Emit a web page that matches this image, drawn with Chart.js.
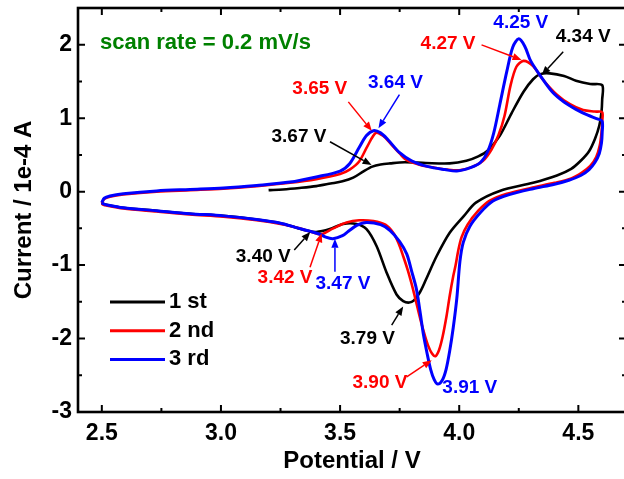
<!DOCTYPE html>
<html>
<head>
<meta charset="utf-8">
<script src="https://cdn.jsdelivr.net/npm/chart.js@4.4.1/dist/chart.umd.min.js"></script>
<style>
  html, body { margin: 0; padding: 0; overflow: hidden; background: #ffffff; width: 624px; height: 479px; }
  canvas { display: block; }
</style>
</head>
<body>
<canvas id="cv" width="640" height="479"></canvas>
<script>
// Cyclic voltammetry, potential in V, current in 1e-4 A.
// Each cycle: anodic sweep up to the 4.6 V vertex, then the cathodic sweep back.
const cycle1Potential = [
  3.20, 3.26, 3.33, 3.40, 3.46, 3.51, 3.555, 3.60, 3.635, 3.67, 3.71, 3.77, 3.86, 3.96, 4.03, 4.08, 4.12, 4.17, 4.22, 4.27, 4.31, 4.34, 4.38, 4.44, 4.49, 4.55, 4.60,
  4.60, 4.597, 4.588, 4.57, 4.545, 4.51, 4.47, 4.41, 4.31, 4.17, 4.07, 4.02, 3.96, 3.905, 3.86, 3.835, 3.81, 3.79, 3.765, 3.737, 3.695, 3.653, 3.611, 3.569, 3.513, 3.457, 3.40, 3.36, 3.317, 3.25, 3.15, 3.01, 2.87, 2.73, 2.59, 2.52, 2.505, 2.50
];
const cycle1Current = [
  0.02, 0.03, 0.05, 0.075, 0.11, 0.14, 0.19, 0.28, 0.34, 0.37, 0.385, 0.40, 0.39, 0.385, 0.42, 0.48, 0.56, 0.76, 1.07, 1.36, 1.53, 1.60, 1.61, 1.575, 1.51, 1.465, 1.45,
  1.25, 1.08, 0.90, 0.72, 0.55, 0.42, 0.31, 0.22, 0.12, 0.01, -0.15, -0.33, -0.56, -0.88, -1.20, -1.37, -1.48, -1.51, -1.49, -1.40, -1.10, -0.74, -0.51, -0.44, -0.44, -0.51, -0.55, -0.53, -0.49, -0.43, -0.38, -0.33, -0.30, -0.26, -0.22, -0.18, -0.165, -0.15
];

const cycle2Potential = [
  2.50, 2.51, 2.534, 2.59, 2.73, 2.87, 3.01, 3.15, 3.29, 3.40, 3.50, 3.54, 3.58, 3.615, 3.65, 3.68, 3.71, 3.75, 3.78, 3.84, 3.89, 3.95, 4.00, 4.05, 4.10, 4.135, 4.165, 4.19, 4.215, 4.24, 4.27, 4.31, 4.35, 4.41, 4.465, 4.52, 4.57, 4.60,
  4.60, 4.597, 4.59, 4.575, 4.55, 4.515, 4.47, 4.40, 4.30, 4.20, 4.13, 4.08, 4.035, 4.01, 3.996, 3.985, 3.975, 3.96, 3.947, 3.93, 3.915, 3.90, 3.885, 3.87, 3.855, 3.842, 3.825, 3.807, 3.785, 3.765, 3.745, 3.723, 3.69, 3.64, 3.58, 3.527, 3.471, 3.42, 3.38, 3.33, 3.25, 3.15, 3.01, 2.87, 2.73, 2.59, 2.52, 2.505, 2.50
];
const cycle2Current = [
  -0.16, -0.10, -0.07, -0.04, 0.00, 0.02, 0.04, 0.075, 0.12, 0.17, 0.24, 0.30, 0.41, 0.62, 0.80, 0.76, 0.66, 0.52, 0.43, 0.36, 0.33, 0.30, 0.29, 0.33, 0.42, 0.57, 0.77, 1.03, 1.44, 1.70, 1.78, 1.71, 1.53, 1.32, 1.19, 1.11, 1.09, 1.08,
  0.95, 0.80, 0.63, 0.47, 0.35, 0.26, 0.18, 0.12, 0.05, -0.03, -0.12, -0.26, -0.45, -0.62, -0.80, -1.00, -1.15, -1.42, -1.69, -1.98, -2.16, -2.24, -2.20, -2.10, -1.95, -1.80, -1.58, -1.34, -1.08, -0.88, -0.70, -0.56, -0.45, -0.40, -0.39, -0.42, -0.50, -0.58, -0.55, -0.50, -0.44, -0.39, -0.34, -0.31, -0.27, -0.23, -0.19, -0.175, -0.16
];

const cycle3Potential = [
  2.50, 2.51, 2.534, 2.59, 2.73, 2.87, 3.01, 3.15, 3.29, 3.40, 3.50, 3.54, 3.58, 3.61, 3.64, 3.67, 3.70, 3.75, 3.80, 3.87, 3.94, 3.99, 4.05, 4.09, 4.12, 4.145, 4.17, 4.20, 4.225, 4.25, 4.275, 4.30, 4.34, 4.39, 4.44, 4.49, 4.54, 4.58, 4.60,
  4.60, 4.597, 4.588, 4.57, 4.545, 4.51, 4.46, 4.40, 4.31, 4.21, 4.14, 4.09, 4.045, 4.017, 4.003, 3.99, 3.975, 3.96, 3.945, 3.93, 3.91, 3.895, 3.88, 3.865, 3.85, 3.835, 3.82, 3.80, 3.78, 3.75, 3.71, 3.67, 3.61, 3.57, 3.535, 3.51, 3.47, 3.44, 3.415, 3.373, 3.317, 3.25, 3.15, 3.01, 2.87, 2.73, 2.59, 2.52, 2.505, 2.50
];
const cycle3Current = [
  -0.15, -0.09, -0.06, -0.03, 0.01, 0.03, 0.05, 0.085, 0.13, 0.20, 0.28, 0.38, 0.60, 0.76, 0.83, 0.80, 0.71, 0.53, 0.42, 0.34, 0.30, 0.28, 0.33, 0.40, 0.55, 0.80, 1.18, 1.64, 1.97, 2.08, 1.98, 1.78, 1.58, 1.36, 1.22, 1.12, 1.04, 0.99, 0.96,
  0.80, 0.66, 0.52, 0.40, 0.30, 0.22, 0.155, 0.10, 0.04, -0.04, -0.13, -0.28, -0.47, -0.69, -0.95, -1.45, -1.85, -2.17, -2.42, -2.56, -2.62, -2.56, -2.42, -2.20, -1.95, -1.62, -1.32, -1.08, -0.85, -0.68, -0.53, -0.45, -0.42, -0.46, -0.54, -0.60, -0.64, -0.62, -0.58, -0.54, -0.49, -0.43, -0.38, -0.33, -0.30, -0.26, -0.22, -0.18, -0.165, -0.15
];

const seriesNames = ['1 st', '2 nd', '3 rd'];
const seriesColors = ['#000000', '#ff0000', '#0000ff'];
const xTickValues = [2.5, 3.0, 3.5, 4.0, 4.5];
const yTickValues = [-3, -2, -1, 0, 1, 2];
const scanRateText = 'scan rate = 0.2 mV/s';

// Peak potentials marked on the curves (cycle index, potential, sweep branch)
const peakCycles = [1, 2, 0, 1, 2, 0, 0, 1, 2, 0, 1, 2];
const peakPotentials = [3.65, 3.64, 3.67, 4.27, 4.25, 4.34, 3.40, 3.42, 3.47, 3.79, 3.90, 3.91];
const peakBranches = ['ox', 'ox', 'ox', 'ox', 'ox', 'ox', 'red', 'red', 'red', 'red', 'red', 'red'];

// Label placement relative to the marked point, in px: text centre, arrow start, arrow tip
const peakLayout = [
  { text: [-56, -44],   from: [-27.5, -31],  to: [-4, -2] },
  { text: [22, -48],    from: [26, -36],     to: [5, -2.4] },
  { text: [-81.6, -27.4], from: [-50.6, -22.7], to: [-9, 0.6] },
  { text: [-75.5, -17], from: [-42, -16],    to: [-2, -1] },
  { text: [2, -16] },
  { text: [43, -37.4],  from: [23, -22.4],   to: [1.5, 1] },
  { text: [-53, 24.5],  from: [-22, 18],     to: [-6, 0] },
  { text: [-36, 43.3],  from: [-11, 33],     to: [0.7, -1] },
  { text: [10, 45],     from: [2, 33],       to: [2, 0] },
  { text: [-41.7, 36.5], from: [-17.5, 22.5], to: [-6, 4] },
  { text: [-55.4, 26.5], from: [-28.7, 20.7], to: [-3.7, 4] },
  { text: [32, 3.5] }
];

const FONT = '"Liberation Sans", Arial, Helvetica, sans-serif';
const cycles = [
  [cycle1Potential, cycle1Current],
  [cycle2Potential, cycle2Current],
  [cycle3Potential, cycle3Current]
];

function toPoints(pot, cur) {
  return pot.map((v, i) => ({ x: v, y: cur[i] }));
}

function findPeak(ci, v, branch) {
  const [pot, cur] = cycles[ci];
  let vertex = 0;
  for (let i = 1; i < pot.length; i++) if (pot[i] > pot[vertex]) vertex = i;
  for (let i = 0; i < pot.length; i++) {
    const inBranch = branch === 'ox' ? i <= vertex : i > vertex;
    if (inBranch && Math.abs(pot[i] - v) < 1e-9) return { x: pot[i], y: cur[i] };
  }
  return null;
}

function drawArrow(ctx, x0, y0, x1, y1, color) {
  const ang = Math.atan2(y1 - y0, x1 - x0);
  const headLen = 9, headW = 3.6;
  const bx = x1 - headLen * Math.cos(ang), by = y1 - headLen * Math.sin(ang);
  ctx.strokeStyle = color;
  ctx.fillStyle = color;
  ctx.lineWidth = 1.5;
  ctx.beginPath();
  ctx.moveTo(x0, y0);
  ctx.lineTo(bx, by);
  ctx.stroke();
  ctx.beginPath();
  ctx.moveTo(x1, y1);
  ctx.lineTo(bx + headW * Math.sin(ang), by - headW * Math.cos(ang));
  ctx.lineTo(bx - headW * Math.sin(ang), by + headW * Math.cos(ang));
  ctx.closePath();
  ctx.fill();
}

// Frame, inward ticks on all sides, legend, annotations
const decorations = {
  id: 'decorations',
  afterDraw(chart) {
    const { ctx, chartArea: a, scales: { x, y } } = chart;
    ctx.save();
    ctx.strokeStyle = '#000';
    ctx.lineWidth = 2.6;
    ctx.lineJoin = 'miter';
    ctx.strokeRect(a.left, a.top, a.right - a.left, a.bottom - a.top);

    ctx.lineWidth = 2;
    const major = 7, minor = 4;
    const xStep = xTickValues[1] - xTickValues[0];
    const yStep = yTickValues[1] - yTickValues[0];
    ctx.beginPath();
    for (let v = xTickValues[0] - xStep; v <= x.max + 1e-9; v += xStep / 2) {
      if (v < x.min - 1e-9) continue;
      const isMajor = Math.abs(Math.round((v - xTickValues[0]) / xStep) * xStep - (v - xTickValues[0])) < 1e-6;
      const len = isMajor ? major : minor;
      const px = x.getPixelForValue(v);
      ctx.moveTo(px, a.bottom); ctx.lineTo(px, a.bottom - len);
      ctx.moveTo(px, a.top); ctx.lineTo(px, a.top + len);
    }
    for (let v = yTickValues[0]; v <= y.max + 1e-9; v += yStep / 2) {
      const isMajor = Math.abs(Math.round((v - yTickValues[0]) / yStep) * yStep - (v - yTickValues[0])) < 1e-6;
      const len = isMajor ? major : minor;
      const py = y.getPixelForValue(v);
      ctx.moveTo(a.left, py); ctx.lineTo(a.left + len, py);
      ctx.moveTo(a.right, py); ctx.lineTo(a.right - len, py);
    }
    ctx.stroke();

    // scan rate note
    ctx.font = 'bold 22px ' + FONT;
    ctx.fillStyle = '#008000';
    ctx.textAlign = 'left';
    ctx.textBaseline = 'alphabetic';
    ctx.fillText(scanRateText, 100, 49);

    // legend
    const legX = 110, legLine = 55, legY0 = 302, legGap = 28.7;
    chart.data.datasets.forEach((ds, i) => {
      const ly = legY0 + i * legGap;
      ctx.strokeStyle = ds.borderColor;
      ctx.lineWidth = 3;
      ctx.beginPath();
      ctx.moveTo(legX, ly); ctx.lineTo(legX + legLine, ly);
      ctx.stroke();
      ctx.fillStyle = '#000';
      ctx.font = 'bold 22px ' + FONT;
      ctx.textBaseline = 'middle';
      ctx.fillText(ds.label, legX + legLine + 4, ly);
    });

    // peak labels
    ctx.font = 'bold 19px ' + FONT;
    ctx.textAlign = 'center';
    ctx.textBaseline = 'middle';
    peakPotentials.forEach((v, k) => {
      const ci = peakCycles[k];
      const p = findPeak(ci, v, peakBranches[k]);
      if (!p) return;
      const color = seriesColors[ci];
      const px = x.getPixelForValue(p.x), py = y.getPixelForValue(p.y);
      const lay = peakLayout[k];
      if (lay.from) {
        drawArrow(ctx, px + lay.from[0], py + lay.from[1], px + lay.to[0], py + lay.to[1], color);
      }
      ctx.fillStyle = color;
      ctx.fillText(v.toFixed(2) + ' V', px + lay.text[0], py + lay.text[1]);
    });
    ctx.restore();
  }
};

const datasets = cycles.map(([pot, cur], i) => ({
  label: seriesNames[i],
  data: toPoints(pot, cur),
  borderColor: seriesColors[i],
  backgroundColor: seriesColors[i],
  borderWidth: i === 2 ? 3 : 2.6,
  showLine: true,
  pointRadius: 0,
  tension: 0.3,
  fill: false,
  order: 3 - i
}));

new Chart(document.getElementById('cv'), {
  type: 'scatter',
  data: { datasets },
  plugins: [decorations],
  options: {
    responsive: false,
    animation: false,
    events: [],
    layout: { padding: { top: 8, right: 14, left: 0, bottom: 0 } },
    plugins: { legend: { display: false }, tooltip: { enabled: false } },
    scales: {
      x: {
        type: 'linear',
        min: 2.4,
        max: 4.7,
        afterBuildTicks: s => { s.ticks = xTickValues.map(v => ({ value: v })); },
        afterFit: s => { s.height = 67; s.paddingLeft = 0; s.paddingRight = 0; },
        grid: { display: false, drawTicks: false },
        border: { display: false },
        ticks: {
          color: '#000',
          font: { family: FONT, size: 23, weight: 'bold' },
          padding: 8,
          maxRotation: 0,
          autoSkip: false,
          callback: v => Number(v).toFixed(1)
        },
        title: {
          display: true,
          text: 'Potential / V',
          color: '#000',
          font: { family: FONT, size: 24, weight: 'bold' },
          padding: { top: 0, bottom: 3 }
        }
      },
      y: {
        type: 'linear',
        min: -3,
        max: 2.5,
        afterBuildTicks: s => { s.ticks = yTickValues.map(v => ({ value: v })); },
        afterFit: s => { s.width = 78; s.paddingTop = 0; s.paddingBottom = 0; },
        grid: { display: false, drawTicks: false },
        border: { display: false },
        ticks: {
          color: '#000',
          font: { family: FONT, size: 23, weight: 'bold' },
          padding: 6,
          autoSkip: false,
          callback: v => String(v)
        },
        title: {
          display: true,
          text: 'Current / 1e-4 A',
          color: '#000',
          font: { family: FONT, size: 24, weight: 'bold' },
          padding: { top: 10, bottom: 0 }
        }
      }
    }
  }
});
</script>
</body>
</html>
